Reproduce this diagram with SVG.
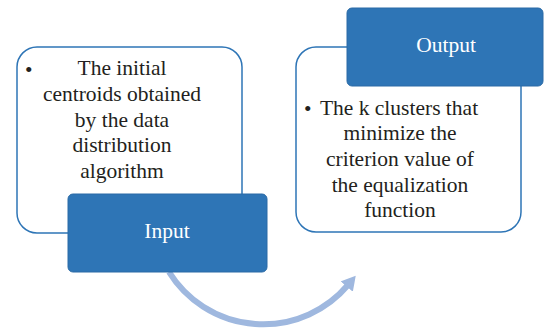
<svg xmlns="http://www.w3.org/2000/svg" width="544" height="328" viewBox="0 0 544 328">
<defs>
<style>
.panel{fill:#fff;stroke:#2e75b6;stroke-width:1.5}
.tab{fill:#2e75b6;stroke:#2a6aa6;stroke-width:1}
text{font-family:"Liberation Serif","Times New Roman","DejaVu Serif",serif;font-size:21.5px}
.t{fill:#231f20;text-anchor:middle}
.w{fill:#fff;text-anchor:middle}
.b{fill:#231f20}
</style>
<marker id="ah" markerUnits="userSpaceOnUse" markerWidth="20" markerHeight="20" refX="2" refY="8" orient="auto">
<path d="M0,0 L14,8 L0,16 Z" fill="#9fb8df"/>
</marker>
</defs>
<g id="connectors">
<path d="M169 272 A111 111 0 0 0 348 285" fill="none" stroke="#9fb8df" stroke-width="6" marker-end="url(#ah)"/>
</g>
<g id="input-panel">
<rect class="panel" x="17" y="47" width="225" height="186" rx="20"/>
<text class="b" x="25" y="77">•</text>
<text class="t" x="122" y="75">The initial</text>
<text class="t" x="122" y="101">centroids obtained</text>
<text class="t" x="122" y="127">by the data</text>
<text class="t" x="122" y="152">distribution</text>
<text class="t" x="122" y="178">algorithm</text>
</g>
<g id="input">
<rect class="tab" x="68" y="194" width="199" height="78" rx="5"/>
<text class="w" x="167" y="238">Input</text>
</g>
<g id="output-panel">
<rect class="panel" x="296" y="47" width="225" height="185" rx="20"/>
<text class="b" x="304" y="116">•</text>
<text class="t" x="399" y="115">The k clusters that</text>
<text class="t" x="400" y="140">minimize the</text>
<text class="t" x="400" y="166">criterion value of</text>
<text class="t" x="400" y="192">the equalization</text>
<text class="t" x="400" y="217">function</text>
</g>
<g id="output">
<rect class="tab" x="347" y="8" width="196" height="78" rx="5"/>
<text class="w" x="446" y="52">Output</text>
</g>
</svg>
